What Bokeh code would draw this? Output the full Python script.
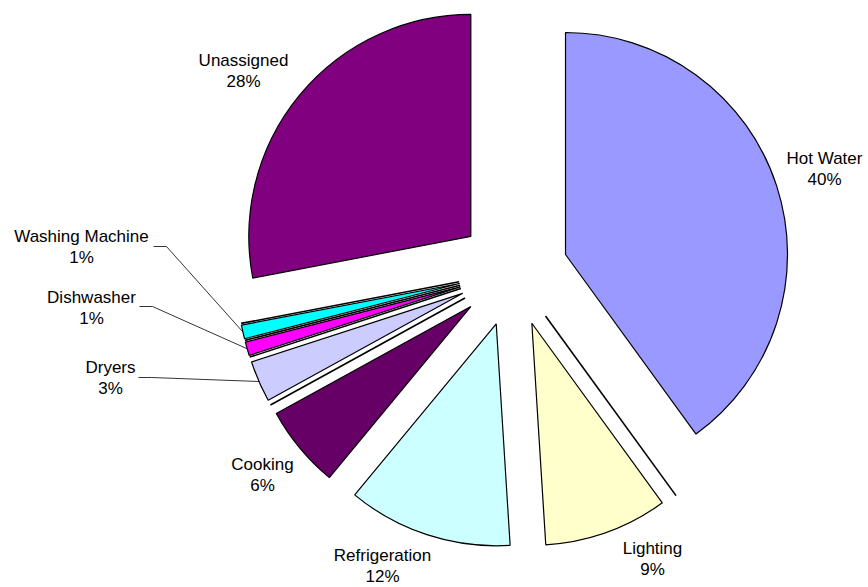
import numpy as np
from bokeh.plotting import figure
from bokeh.models import Range1d
from bokeh.core.properties import value
from bokeh.embed import file_html
from bokeh.resources import INLINE

# ---- data (clockwise from 12 o'clock); unnamed entries are 0% slices ----
categories = ["Hot Water", "", "Lighting", "Refrigeration", "Cooking", "",
              "Dryers", "", "Dishwasher", "", "Washing Machine", "", "Unassigned"]
shares = [40, 0, 9, 12, 6, 0, 3, 0, 1, 0, 1, 0, 28]
colors = ["#9999FF", None, "#FFFFCC", "#CCFFFF", "#660066", None,
          "#CCCCFF", None, "#FF00FF", None, "#00FFFF", None, "#800080"]

# ---- layout (screen pixels, measured from the top-left) ----
W, H = 868, 587
CX_S, CY_S = 512.7, 271.0   # pie centre on screen
R = 222.0                   # radius
EXPL = 55.0                 # explosion distance

# label anchors: (centre x, y of the name line) on screen
label_pos = {
    "Hot Water": (824, 158), "Lighting": (652, 548), "Refrigeration": (382, 555),
    "Cooking": (262, 464), "Dryers": (110, 367), "Dishwasher": (91, 297),
    "Washing Machine": (81, 236), "Unassigned": (243, 60),
}
leader_start = {"Dryers": (138, 377), "Dishwasher": (139, 306), "Washing Machine": (153, 246)}

def sx(x):
    return x

def sy(y):
    return H - y

CX, CY = sx(CX_S), sy(CY_S)

p = figure(width=W, height=H, output_backend="svg", toolbar_location=None,
           x_range=Range1d(0, W), y_range=Range1d(0, H), min_border=0)
p.axis.visible = False
p.grid.visible = False
p.outline_line_color = None
p.background_fill_color = "white"

total = float(sum(shares))
cum = np.concatenate([[0.0], np.cumsum(shares)]) / total * 360.0

font = value("Liberation Sans")
for i, (cat, s, col) in enumerate(zip(categories, shares, colors)):
    t1, t2 = np.radians(cum[i]), np.radians(cum[i + 1])
    tm = 0.5 * (t1 + t2)
    ox = CX + EXPL * np.sin(tm)
    oy = CY + EXPL * np.cos(tm)
    if s == 0:
        p.segment(x0=[ox], y0=[oy], x1=[ox + R * np.sin(tm)], y1=[oy + R * np.cos(tm)],
                  line_color="black", line_width=1.6)
        continue
    p.wedge(x=[ox], y=[oy], radius=R,
            start_angle=np.pi / 2 - t2, end_angle=np.pi / 2 - t1,
            fill_color=col, line_color="black", line_width=1.2)
    lx, ly = label_pos[cat]
    p.text(x=[sx(lx)], y=[sy(ly)], text=[cat], text_font=font,
           text_font_size="17px", text_align="center", text_baseline="middle",
           text_color="black")
    p.text(x=[sx(lx)], y=[sy(ly + 21)], text=[f"{s}%"], text_font=font,
           text_font_size="17px", text_align="center", text_baseline="middle",
           text_color="black")
    if cat in leader_start:
        ex = ox + R * np.sin(tm)
        ey = oy + R * np.cos(tm)
        x0, y0 = leader_start[cat]
        p.line(x=[sx(x0), sx(x0 + 13), ex], y=[sy(y0), sy(y0), ey],
               line_color="black", line_width=0.8)

open("out.html", "w").write(file_html(p, INLINE))
